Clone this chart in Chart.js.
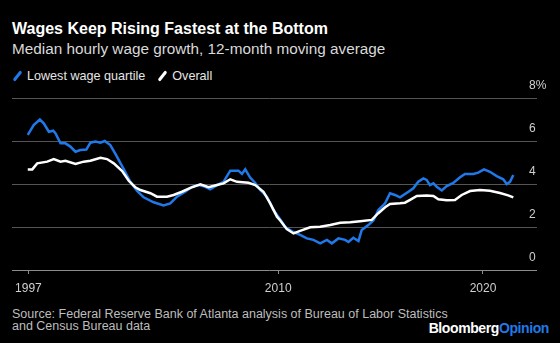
<!DOCTYPE html>
<html>
<head>
<meta charset="utf-8">
<script src="https://cdn.jsdelivr.net/npm/chart.js@4.4.1/dist/chart.umd.min.js"></script>
<style>
  body {
    margin: 0;
    width: 560px;
    height: 343px;
    background: #000;
    overflow: hidden;
    position: relative;
    font-family: 'Liberation Sans', Arial, sans-serif;
  }
  .txt { position: absolute; white-space: nowrap; line-height: 1; }
  #title { left: 12px; top: 20.5px; font-size: 16px; font-weight: bold; color: #fff; }
  #subtitle { left: 12px; top: 41px; font-size: 15.3px; color: #d9d9d9; }
  #legend { left: 12px; top: 69.5px; font-size: 12.6px; color: #e6e6e6; display: flex; align-items: center; }
  .mark { display: inline-block; width: 3px; height: 12px; border-radius: 1.5px; transform: rotate(38deg); margin: 0 8px 0 4px; }
  .gap { display: inline-block; width: 12px; }
  #source { left: 12px; top: 307.5px; font-size: 12.5px; line-height: 12.5px; color: #bdbdbd; }
  #logo { right: 11px; top: 321px; font-size: 14px; font-weight: bold; letter-spacing: -0.4px; color: #fff; }
  #logo span { color: #2079e8; }
  #wrap { position: absolute; left: 0; top: 78px; width: 560px; height: 222px; }
</style>
</head>
<body>
<div class="txt" id="title">Wages Keep Rising Fastest at the Bottom</div>
<div class="txt" id="subtitle">Median hourly wage growth, 12-month moving average</div>
<div class="txt" id="legend">
  <span class="mark" style="background:#2079e8"></span>Lowest wage quartile<span class="gap"></span>
  <span class="mark" style="background:#fff"></span>Overall
</div>
<div id="wrap"><canvas id="chart"></canvas></div>
<div class="txt" id="source">Source: Federal Reserve Bank of Atlanta analysis of Bureau of Labor Statistics<br>and Census Bureau data</div>
<div class="txt" id="logo">Bloomberg<span>Opinion</span></div>

<script>
// Lowest wage quartile (decimal years / percent)
const lowYears = [
  1997.77, 1998.06, 1998.36, 1998.55, 1998.80, 1999.01, 1999.12, 1999.37, 1999.61, 1999.85,
  2000.10, 2000.34, 2000.63, 2000.83, 2001.07, 2001.32, 2001.53, 2001.80, 2002.05, 2002.45,
  2002.78, 2003.11, 2003.43, 2003.92, 2004.40, 2004.73, 2005.06, 2005.46, 2005.79, 2006.11,
  2006.44, 2006.68, 2007.01, 2007.33, 2007.66, 2008.06, 2008.23, 2008.39, 2008.63, 2008.88,
  2009.12, 2009.45, 2009.77, 2010.10, 2010.34, 2010.67, 2011.07, 2011.40, 2011.72, 2012.05,
  2012.38, 2012.62, 2012.94, 2013.27, 2013.43, 2013.67, 2013.92, 2014.08, 2014.40, 2014.65,
  2014.89, 2015.22, 2015.46, 2015.70, 2015.95, 2016.36, 2016.60, 2016.84, 2017.09, 2017.25,
  2017.41, 2017.58, 2017.74, 2017.99, 2018.23, 2018.55, 2018.88, 2019.12, 2019.53, 2019.77,
  2020.05, 2020.34, 2020.67, 2020.99, 2021.16, 2021.32, 2021.48
];
const lowValues = [
  6.28, 6.74, 7.0, 6.82, 6.43, 6.48, 6.36, 5.89, 5.89, 5.74,
  5.5, 5.58, 5.6, 5.92, 5.97, 5.92, 6.0, 5.81, 5.4, 4.7,
  4.1, 3.68, 3.38, 3.15, 3.0, 3.1, 3.41, 3.64, 3.87, 3.95,
  3.87, 3.75, 3.95, 4.1, 4.62, 4.62, 4.47, 4.68, 4.3, 4.05,
  3.72, 3.41, 2.79, 2.35, 2.01, 1.8, 1.63, 1.47, 1.4, 1.24,
  1.4, 1.24, 1.47, 1.4, 1.3, 1.5, 1.35, 1.86, 2.09, 2.3,
  2.79, 3.1, 3.57, 3.49, 3.38, 3.64, 3.8, 4.11, 4.26, 4.19,
  3.95, 4.03, 3.87, 3.7, 3.9, 4.05, 4.31, 4.47, 4.47, 4.53,
  4.68, 4.57, 4.37, 4.22, 4.0, 4.1, 4.42
];

// Overall
const allYears = [
  1997.77, 1997.99, 1998.23, 1998.72, 1999.04, 1999.37, 1999.61, 2000.10, 2000.50, 2000.83,
  2001.32, 2001.64, 2001.97, 2002.38, 2002.70, 2003.02, 2003.27, 2003.76, 2004.08, 2004.57,
  2004.89, 2005.30, 2005.71, 2006.20, 2006.60, 2007.01, 2007.33, 2007.66, 2007.99, 2008.55,
  2008.88, 2009.28, 2009.61, 2009.94, 2010.10, 2010.42, 2010.75, 2011.07, 2011.56, 2012.05,
  2012.54, 2013.03, 2013.52, 2014.00, 2014.57, 2014.89, 2015.22, 2015.46, 2015.95, 2016.19,
  2016.44, 2016.77, 2017.25, 2017.58, 2017.82, 2018.23, 2018.63, 2018.96, 2019.37, 2019.85,
  2020.34, 2020.83, 2021.23, 2021.48
];
const allValues = [
  4.68, 4.68, 4.96, 5.04, 5.16, 5.04, 5.08, 4.93, 5.04, 5.08,
  5.22, 5.16, 4.96, 4.6, 4.15, 3.85, 3.72, 3.57, 3.41, 3.41,
  3.49, 3.64, 3.82, 3.99, 3.85, 3.95, 4.03, 4.22, 4.1, 4.06,
  3.95, 3.64, 3.1, 2.48, 2.3, 1.9, 1.7, 1.82, 1.99, 2.01,
  2.09, 2.2, 2.22, 2.27, 2.33, 2.64, 2.92, 3.07, 3.1, 3.13,
  3.26, 3.44, 3.47, 3.44, 3.29, 3.24, 3.26, 3.49, 3.67, 3.72,
  3.69, 3.58, 3.47, 3.38
];

// Axis ticks
const xTickValues = [1997.8, 2010, 2020];
const xTickLabels = ['1997', '2010', '2020'];
const yTickLabels = ['0', '2', '4', '6', '8%'];

const BLUE = '#2079e8';
const GRID = '#555555';
const BASE = '#8c8c8c';
const TICK_TEXT = '#cfcfcf';

function toPoints(xs, ys) {
  return xs.map((x, i) => ({ x: x, y: ys[i] }));
}

new Chart(document.getElementById('chart'), {
  type: 'line',
  data: {
    datasets: [
      {
        label: 'Lowest wage quartile',
        data: toPoints(lowYears, lowValues),
        borderColor: BLUE,
        borderWidth: 2.5,
        pointRadius: 0,
        tension: 0,
        order: 1
      },
      {
        label: 'Overall',
        data: toPoints(allYears, allValues),
        borderColor: '#ffffff',
        borderWidth: 2.5,
        pointRadius: 0,
        tension: 0,
        order: 0
      }
    ]
  },
  options: {
    responsive: true,
    maintainAspectRatio: false,
    animation: false,
    layout: { padding: { left: 12, top: 20, right: 0, bottom: 0 } },
    plugins: {
      legend: { display: false },
      tooltip: { enabled: false }
    },
    scales: {
      x: {
        type: 'linear',
        min: 1997,
        max: 2022.15,
        afterBuildTicks: axis => {
          axis.ticks = xTickValues.map(v => ({ value: v }));
        },
        afterFit: axis => { axis.height = 30; },
        grid: {
          drawOnChartArea: false,
          drawTicks: true,
          tickLength: 4,
          color: BASE
        },
        border: { display: false },
        ticks: {
          autoSkip: false,
          maxRotation: 0,
          padding: 7,
          color: TICK_TEXT,
          font: { family: "'Liberation Sans', Arial, sans-serif", size: 12 },
          callback: (v, i) => xTickLabels[i]
        }
      },
      y: {
        position: 'right',
        min: 0,
        max: 8,
        afterFit: axis => { axis.width = 33; },
        grid: {
          drawTicks: true,
          tickLength: 10,
          color: ctx => (ctx.tick && ctx.tick.value === 0 ? BASE : GRID),
          lineWidth: 1
        },
        border: { display: false },
        ticks: {
          stepSize: 2,
          padding: -8,
          labelOffset: -12,
          color: TICK_TEXT,
          font: { family: "'Liberation Sans', Arial, sans-serif", size: 12 },
          callback: (v, i) => yTickLabels[i]
        }
      }
    }
  }
});
</script>
</body>
</html>
